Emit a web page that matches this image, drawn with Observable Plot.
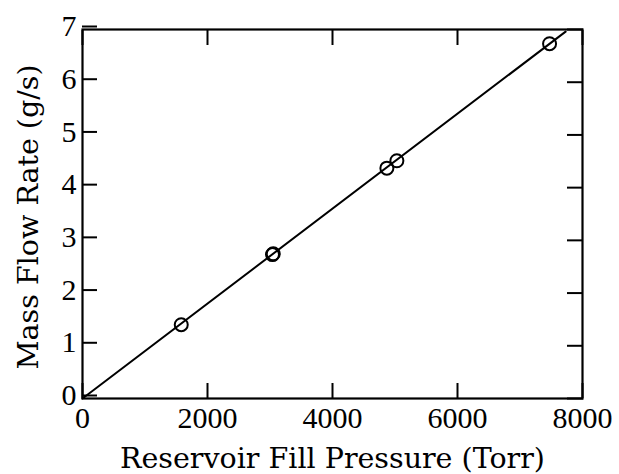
<!DOCTYPE html>
<html><head><meta charset="utf-8">
<script src="https://cdn.jsdelivr.net/npm/d3@7"></script>
<script src="https://cdn.jsdelivr.net/npm/@observablehq/plot@0.6"></script>
<style>body{margin:0;background:#fff} svg{display:block}</style>
</head><body><div id="chart"></div>
<script>
// Measured points: reservoir fill pressure (Torr) vs mass flow rate (g/s)
const pressure = [1580, 3040, 3052, 4870, 5030, 7473];
const massFlow = [1.40, 2.73, 2.745, 4.37, 4.51, 6.73];
// Linear fit line end points
const fitPressure = [0, 7730];
const fitMassFlow = [0, 6.96];
const xTicks = [0, 2000, 4000, 6000, 8000];
const yTicks = [0, 1, 2, 3, 4, 5, 6, 7];
const xLabel = "Reservoir Fill Pressure (Torr)";
const yLabel = "Mass Flow Rate (g/s)";

const points = pressure.map((p, i) => ({p, m: massFlow[i]}));
const fit = fitPressure.map((p, i) => ({p, m: fitMassFlow[i]}));

const tickFont = "'Liberation Serif', serif";
const labelFont = "'DejaVu Serif', serif";

const chart = Plot.plot({
  width: 619,
  height: 474,
  marginLeft: 82,
  marginRight: 37,
  marginTop: 29,
  marginBottom: 76,
  style: {background: "#fff", color: "#000"},
  x: {domain: [0, 8000]},
  y: {domain: [0, 7]},
  marks: [
    Plot.line(fit, {x: "p", y: "m", stroke: "#000", strokeWidth: 2}),
    Plot.dot(points, {x: "p", y: "m", r: 6.5, stroke: "#000", strokeWidth: 2, fill: "none"}),
    Plot.frame({stroke: "#000", strokeWidth: 2.2}),
    Plot.axisX({anchor: "bottom", ticks: xTicks, tickSize: -15, tickPadding: 23, strokeWidth: 2,
      fontSize: 30, fontFamily: tickFont, label: null, tickFormat: d => String(d)}),
    Plot.axisX({anchor: "top", ticks: xTicks, tickSize: -15, strokeWidth: 2, label: null, tickFormat: () => ""}),
    Plot.axisY({anchor: "left", ticks: yTicks, tickSize: -15, tickPadding: 21, strokeWidth: 2,
      fontSize: 30, fontFamily: tickFont, label: null, dy: -3, tickFormat: d => String(d)}),
    Plot.axisY({anchor: "right", ticks: yTicks, tickSize: -16, strokeWidth: 2, label: null, tickFormat: () => ""}),
    Plot.text([xLabel], {frameAnchor: "bottom", text: d => d, dy: 69, lineAnchor: "bottom",
      fontSize: 28.5, fontFamily: labelFont, fill: "#000"}),
    Plot.text([yLabel], {frameAnchor: "left", text: d => d, dx: -45, dy: 3, rotate: -90,
      textAnchor: "middle", lineAnchor: "bottom",
      fontSize: 28.5, fontFamily: labelFont, fill: "#000"})
  ]
});
document.getElementById("chart").appendChild(chart);
</script>
</body></html>
